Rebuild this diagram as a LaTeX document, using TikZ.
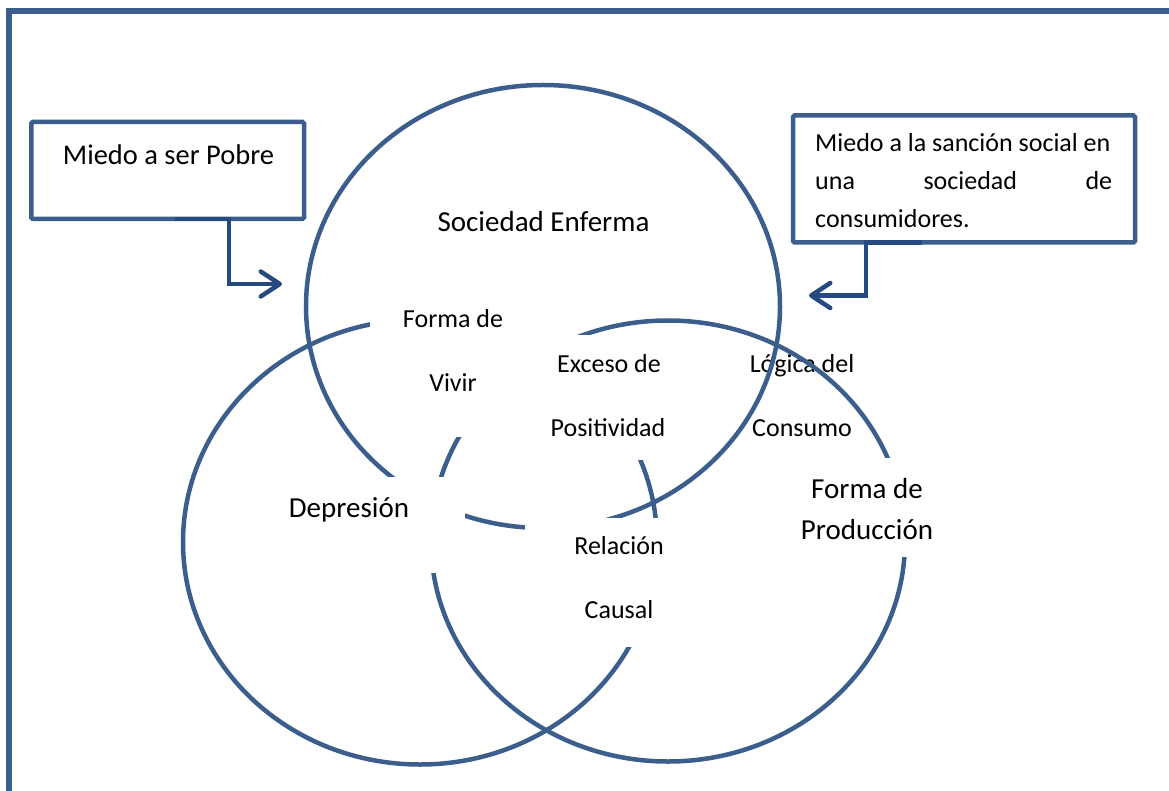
\documentclass[tikz,border=0pt]{standalone}
\usepackage{fontspec}
\setmainfont{Carlito}
\usetikzlibrary{arrows.meta}
\definecolor{ring}{HTML}{3B5E8C}
\definecolor{arrowc}{HTML}{254A80}
\begin{document}
\begin{tikzpicture}[x=1pt,y=-1pt,
  ring/.style={draw=ring, line width=4.5pt},
  lbl/.style={anchor=base, inner sep=0pt, font=\fontsize{26}{30}\selectfont},
  big/.style={anchor=base, inner sep=0pt, font=\fontsize{29}{34}\selectfont},
  boxst/.style={draw=ring, line width=4.5pt, rounded corners=1.5pt, fill=white, inner sep=0pt},
  arr/.style={draw=arrowc, line width=4.5pt, -{Straight Barb[length=19pt,width=25pt,round]}},
]
\clip (0,0) rectangle (1169,791);
\useasboundingbox (0,0) rectangle (1169,791);
\fill[white] (0,0) rectangle (1169,791);
% frame
\draw[draw=ring, line width=5.5pt] (9,11) rectangle (1200,820);
% text lying under the circles
\node[lbl] (lg1) at (802,372) {Lógica del};
\node[lbl] (lg2) at (802,436) {Consumo};
% circles
\draw[ring] (543,306.5) ellipse (237pt and 221.5pt);
\draw[ring] (420,542) ellipse (237pt and 222.5pt);
\draw[ring] (668,541) ellipse (237pt and 220.5pt);
% white text boxes covering parts of the circles
\fill[white] (370,300) rectangle (520,437);
\fill[white] (520,335) rectangle (680,460);
\fill[white] (270,477) rectangle (465,573);
\fill[white] (525,518) rectangle (672,647);
\fill[white] (790,458) rectangle (940,557);
% texts in the circles
\node[big] (soc) at (543.5,231.5) {Sociedad Enferma};
\node[lbl] (fv1) at (453,327) {Forma de};
\node[lbl] (fv2) at (453,391) {Vivir};
\node[lbl] (ex1) at (609,372) {Exceso de};
\node[lbl] (ex2) at (608,436) {Positividad};
\node[big] (dep) at (349,517) {Depresión};
\node[big] (fp1) at (867,498) {Forma de};
\node[big] (fp2) at (867,539) {Producción};
\node[lbl] (rc1) at (619,554) {Relación};
\node[lbl] (rc2) at (619,618) {Causal};
% boxes
\node[boxst, minimum width=272.7pt, minimum height=97pt] (b1) at (167.7,170.5) {};
\node[big, font=\fontsize{28.5}{34}\selectfont] (t1) at (168.5,165) {Miedo a ser Pobre};
\node[boxst, minimum width=342pt, minimum height=127pt] (b2) at (964,179) {};
\node[lbl, anchor=base west] (t2a) at (815,151.7) {Miedo a la sanción social en};
\node[lbl, anchor=base west] (t2b) at (815,190) {\makebox[297pt]{una\hfill sociedad\hfill de}};
\node[lbl, anchor=base west] (t2c) at (815,227.7) {consumidores.};
% arrows
\coordinate (a1s) at (175,219);
\coordinate (a1e) at (282,284);
\draw[arr] (a1s) -- (229,219) -- (229,284) -- (a1e);
\coordinate (a2s) at (922,242.5);
\coordinate (a2e) at (809,295.5);
\draw[arr] (a2s) -- (866,242.5) -- (866,295.5) -- (a2e);
\end{tikzpicture}
\end{document}
